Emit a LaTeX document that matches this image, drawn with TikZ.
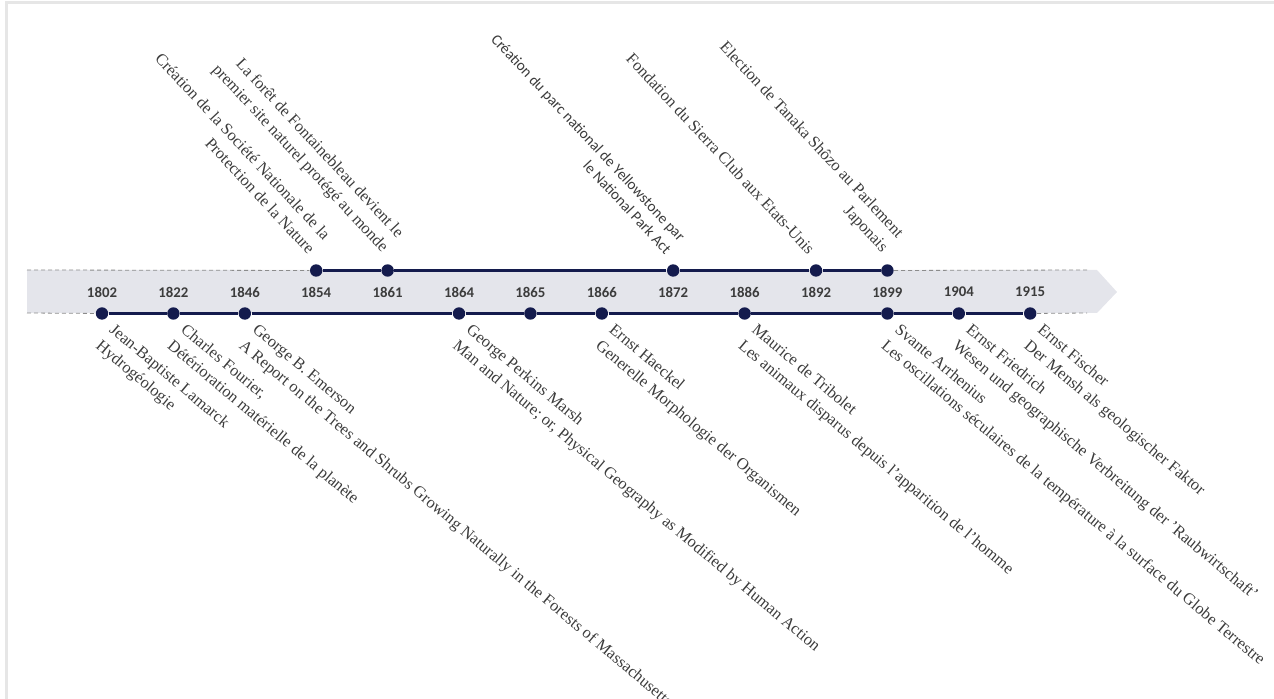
\documentclass[tikz,border=0pt]{standalone}
\usepackage{fontspec}
\setmainfont{Liberation Serif}
\newfontfamily\calibri{Carlito}
\usepackage{tikz}
\usetikzlibrary{positioning}

\definecolor{navy}{HTML}{141B4D}
\definecolor{bandgray}{HTML}{E4E5EB}
\definecolor{txtgray}{HTML}{3C3C3C}
\definecolor{dashgray}{HTML}{8C8C8C}
\definecolor{framegray}{HTML}{E6E6E6}

\begin{document}
\begin{tikzpicture}[auto,node distance=35.7pt,semithick]
\tikzstyle{yearlbl}=[font=\calibri\bfseries\fontsize{7.4pt}{9pt}\selectfont,text=txtgray,inner sep=0pt]
\tikzstyle{bead}=[circle,fill=navy,draw=none,inner sep=0pt,minimum size=6.2pt]
\tikzstyle{toplbl}=[text=txtgray,rotate=-47,align=right,inner sep=1pt]
\tikzstyle{botlbl}=[text=txtgray,rotate=-40,align=left,inner sep=1pt]
\tikzstyle{rim}=[draw=dashgray,thin,dash pattern=on 2pt off 1.5pt]
\tikzstyle{axis}=[draw=navy,line width=1.2pt]
\tikzset{font=\fontsize{8.2pt}{10.5pt}\selectfont}

\useasboundingbox (0,0) rectangle (637pt,-349.5pt);
\draw[framegray,line width=1.5pt] (3pt,-349.5pt) -- (3pt,-1.5pt) -- (637pt,-1.5pt);

% band
\fill[bandgray] (13.5pt,-135pt) -- (548.5pt,-135pt) -- (558.5pt,-146pt) -- (548.5pt,-156.5pt) -- (13.5pt,-156.5pt) -- cycle;
\coordinate (tl) at (13.5pt,-135pt);
\coordinate (tr) at (543.5pt,-135pt);
\coordinate (bl) at (13.5pt,-156.5pt);
\coordinate (br) at (543.5pt,-156.5pt);

        \node[yearlbl]      (y1802)      at (51pt,-146pt)      {1802};
        \node[yearlbl]      (y1822)      [right of=y1802]      {1822};
        \node[yearlbl]      (y1846)      [right of=y1822]      {1846};
        \node[yearlbl]      (y1854)      [right of=y1846]      {1854};
        \node[yearlbl]      (y1861)      [right of=y1854]      {1861};
        \node[yearlbl]      (y1864)      [right of=y1861]      {1864};
        \node[yearlbl]      (y1865)      [right of=y1864]      {1865};
        \node[yearlbl]      (y1866)      [right of=y1865]      {1866};
        \node[yearlbl]      (y1872)      [right of=y1866]      {1872};
        \node[yearlbl]      (y1886)      [right of=y1872]      {1886};
        \node[yearlbl]      (y1892)      [right of=y1886]      {1892};
        \node[yearlbl]      (y1899)      [right of=y1892]      {1899};
        \node[yearlbl]      (y1904)      [right of=y1899]      {1904};
        \node[yearlbl]      (y1915)      [right of=y1904]      {1915};

        \node[bead, node distance=10.75pt]      (t1854)      [above of=y1854]      {};
        \node[bead, node distance=10.75pt]      (t1861)      [above of=y1861]      {};
        \node[bead, node distance=10.75pt]      (t1872)      [above of=y1872]      {};
        \node[bead, node distance=10.75pt]      (t1892)      [above of=y1892]      {};
        \node[bead, node distance=10.75pt]      (t1899)      [above of=y1899]      {};

        \node[bead, node distance=10.75pt]      (b1802)      [below of=y1802]      {};
        \node[bead, node distance=10.75pt]      (b1822)      [below of=y1822]      {};
        \node[bead, node distance=10.75pt]      (b1846)      [below of=y1846]      {};
        \node[bead, node distance=10.75pt]      (b1864)      [below of=y1864]      {};
        \node[bead, node distance=10.75pt]      (b1865)      [below of=y1865]      {};
        \node[bead, node distance=10.75pt]      (b1866)      [below of=y1866]      {};
        \node[bead, node distance=10.75pt]      (b1886)      [below of=y1886]      {};
        \node[bead, node distance=10.75pt]      (b1899)      [below of=y1899]      {};
        \node[bead, node distance=10.75pt]      (b1904)      [below of=y1904]      {};
        \node[bead, node distance=10.75pt]      (b1915)      [below of=y1915]      {};

        \path[rim]
        (tl)   edge      (t1854)
        (t1899)   edge      (tr)
        (bl)   edge      (b1802)
        (b1915)   edge      (br)
        ; %end path

        \path[axis]
        (t1854)   edge      (t1861)
        (t1861)   edge      (t1872)
        (t1872)   edge      (t1892)
        (t1892)   edge      (t1899)
        (b1802)   edge      (b1822)
        (b1822)   edge      (b1846)
        (b1846)   edge      (b1864)
        (b1864)   edge      (b1865)
        (b1865)   edge      (b1866)
        (b1866)   edge      (b1886)
        (b1886)   edge      (b1899)
        (b1899)   edge      (b1904)
        (b1904)   edge      (b1915)
        ; %end path

        \node[toplbl, above left=3.4pt and 1.9pt of t1854, anchor=south east]      (l1854)      {Création de la Société Nationale de la\\Protection de la Nature};
        \node[toplbl, above left=3.4pt and 1.9pt of t1861, anchor=south east]      (l1861)      {La forêt de Fontainebleau devient le\\premier site naturel protégé au monde};
        \node[toplbl, above left=3.4pt and 1.9pt of t1872, anchor=south east, font=\calibri\fontsize{7.6pt}{9.5pt}\selectfont]      (l1872)      {Création du parc national de Yellowstone par\\le National Park Act};
        \node[toplbl, above left=3.4pt and 1.9pt of t1892, anchor=south east]      (l1892)      {Fondation du Sierra Club aux Etats-Unis};
        \node[toplbl, above left=3.4pt and 1.9pt of t1899, anchor=south east]      (l1899)      {Election de Tanaka Shôzo au Parlement\\Japonais};

        \node[botlbl, below right=0.4pt and 4.4pt of b1802, anchor=north west]      (l1802)      {Jean-Baptiste Lamarck\\Hydrogéologie};
        \node[botlbl, below right=0.4pt and 4.4pt of b1822, anchor=north west]      (l1822)      {Charles Fourier,\\Détérioration matérielle de la planète};
        \node[botlbl, below right=0.4pt and 4.4pt of b1846, anchor=north west]      (l1846)      {George B. Emerson\\A Report on the Trees and Shrubs Growing Naturally in the Forests of Massachusetts};
        \node[botlbl, below right=0.4pt and 4.4pt of b1864, anchor=north west]      (l1864)      {George Perkins Marsh\\Man and Nature; or, Physical Geography as Modified by Human Action};
        \node[botlbl, below right=0.4pt and 4.4pt of b1866, anchor=north west]      (l1866)      {Ernst Haeckel\\Generelle Morphologie der Organismen};
        \node[botlbl, below right=0.4pt and 4.4pt of b1886, anchor=north west]      (l1886)      {Maurice de Tribolet\\Les animaux disparus depuis l'apparition de l'homme};
        \node[botlbl, below right=0.4pt and 4.4pt of b1899, anchor=north west]      (l1899)      {Svante Arrhenius\\Les oscillations séculaires de la température à la surface du Globe Terrestre};
        \node[botlbl, below right=0.4pt and 4.4pt of b1904, anchor=north west]      (l1904)      {Ernst Friedrich\\Wesen und geographische Verbreitung der 'Raubwirtschaft'};
        \node[botlbl, below right=0.4pt and 4.4pt of b1915, anchor=north west]      (l1915)      {Ernst Fischer\\Der Mensh als geologischer Faktor};

\end{tikzpicture}
\end{document}
